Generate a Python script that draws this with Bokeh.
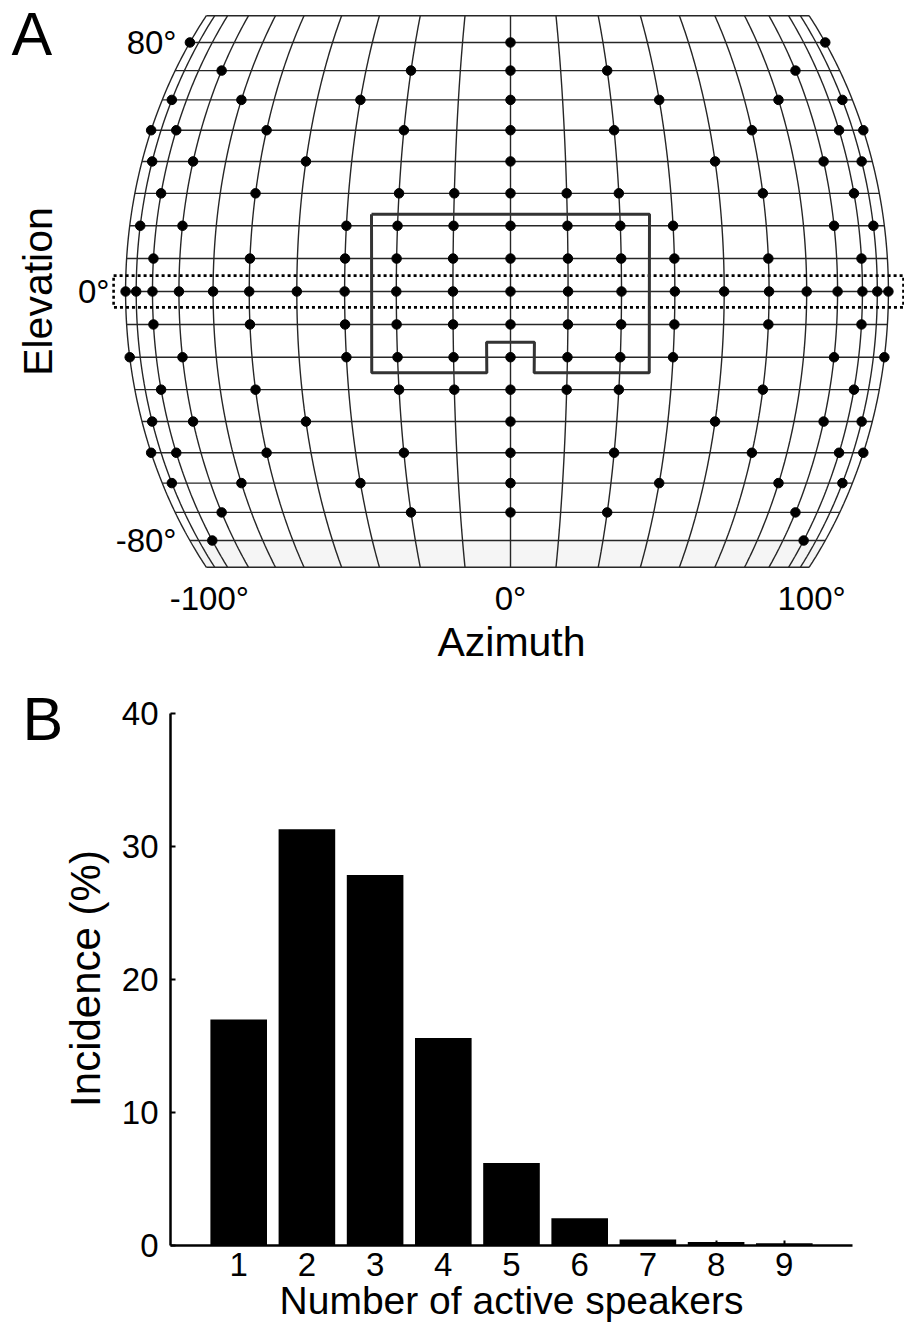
import numpy as np
from bokeh.plotting import figure
from bokeh.layouts import column, row
from bokeh.models import Range1d, FixedTicker
from bokeh.core.properties import value
from bokeh.embed import file_html
from bokeh.resources import INLINE

FONT_NAME = "Liberation Sans"
FONT = value(FONT_NAME)
MID = 0.3465   # em offset between Bokeh's "middle" anchor and the alphabetic baseline

# ---------------- data: panel A (speaker array, degrees) ----------------
MERIDIANS_LEFT = [-17.5, -35, -51.5, -67.5, -84.5, -98.5, -113, -125.5, -134, -140]
MERIDIANS_RIGHT = [17.5, 34, 51, 67.5, 83.5, 98, 111, 122.5, 130, 136]
MERIDIANS = sorted(MERIDIANS_LEFT + [0] + MERIDIANS_RIGHT)
PARALLELS = [-80, -70, -60, -50, -40, -30, -20, -10, 0, 10, 20, 30, 40, 50, 60, 70, 80]
EDGE_EL = [-90, 90]

ROW_ELEVATIONS = [80, 70, 60, 50, 40, 30, 20, 10, 0, -10, -20, -30, -40, -50, -60, -70, -80]
ROW_P80 = [-140, 0, 136]
ROW_P70 = [-113, -35, 0, 34, 111]
ROW_P60 = [-134, -98.5, -51.5, 0, 51, 98, 130]
ROW_P50 = [-140, -125.5, -84.5, -35, 0, 34, 83.5, 122.5, 136]
ROW_P40 = [-134, -113, -67.5, 0, 67.5, 111, 130]
ROW_P30 = [-125.5, -84.5, -35, -17.5, 0, 17.5, 34, 83.5, 122.5]
ROW_P20 = [-134, -113, -51.5, -35, -17.5, 0, 17.5, 34, 51, 111, 130]
ROW_P10 = [-125.5, -84.5, -51.5, -35, -17.5, 0, 17.5, 34, 51, 83.5, 122.5]
ROW_0 = [-140, -134, -125.5, -113, -98.5, -84.5, -67.5, -51.5, -35, -17.5, 0,
         17.5, 34, 51, 67.5, 83.5, 98, 111, 122.5, 130, 136]
ROW_M10 = [-125.5, -84.5, -51.5, -35, -17.5, 0, 17.5, 34, 51, 83.5, 122.5]
ROW_M20 = [-140, -113, -51.5, -35, -17.5, 0, 17.5, 34, 51, 111, 136]
ROW_M30 = [-125.5, -84.5, -35, -17.5, 0, 17.5, 34, 83.5, 122.5]
ROW_M40 = [-134, -113, -67.5, 0, 67.5, 111, 130]
ROW_M50 = [-140, -125.5, -84.5, -35, 0, 34, 83.5, 122.5, 136]
ROW_M60 = [-134, -98.5, -51.5, 0, 51, 98, 130]
ROW_M70 = [-113, -35, 0, 34, 111]
ROW_M80 = [-125.5, 122.5]
ROWS = [ROW_P80, ROW_P70, ROW_P60, ROW_P50, ROW_P40, ROW_P30, ROW_P20, ROW_P10, ROW_0,
        ROW_M10, ROW_M20, ROW_M30, ROW_M40, ROW_M50, ROW_M60, ROW_M70, ROW_M80]

BOX_AZ = [-43.5, 43.5, 43.5, 7.3, 7.3, -7.3, -7.3, -43.5, -43.5]
BOX_EL = [23.5, 23.5, -24.8, -24.8, -15.4, -15.4, -24.8, -24.8, 23.5]
BAND_AZ = [-147.5, 145, 145, -147.5, -147.5]
BAND_EL = [4.8, 4.8, -4.8, -4.8, 4.8]

ELEV_TICKS = [80, 0, -80]
ELEV_TICK_LABELS = ["80°", "0°", "-80°"]
ELEV_LABEL_AZ = -150
AZ_TICKS = [-100, 0, 100]
AZ_TICK_LABELS = ["-100°", "0°", "100°"]

# ---------------- data: panel B ----------------
N_SPEAKERS = [1, 2, 3, 4, 5, 6, 7, 8, 9]
INCIDENCE = [17.0, 31.3, 27.85, 15.6, 6.2, 2.05, 0.45, 0.27, 0.17]
Y_TICKS = [0, 10, 20, 30, 40]

# ---------------- projection ----------------
K = 0.42


def proj(az, el):
    a = np.radians(np.asarray(az, float) * K)
    e = np.radians(np.asarray(el, float) * K)
    return np.cos(e) * np.sin(a), np.sin(e)


def no_align(p):
    try:
        p.frame_align = False
    except Exception:
        pass


def bare(p):
    no_align(p)
    p.xgrid.visible = False
    p.ygrid.visible = False
    p.outline_line_color = None


W = 904
H1 = 680
H2 = 1332 - H1
S = 450.0              # px per projected unit
CX, CY = 510.0, 291.0  # projection centre (px)


def mx(px):
    return (px - CX) / S


def my(py):
    return (CY - py) / S


def base(py, size):   # alphabetic baseline (px) -> middle anchor (px)
    return py - MID * size


p1 = figure(width=W, height=H1, x_range=Range1d(mx(0), mx(W)), y_range=Range1d(my(H1), my(0)),
            output_backend="svg", toolbar_location=None, min_border=0,
            x_axis_location=None, y_axis_location=None, title=None)
bare(p1)

azL, azR = MERIDIANS_LEFT[-1], MERIDIANS_RIGHT[-1]

# light floor strip between -80 and -90
ee = np.linspace(-80, -90, 11)
lx, ly = proj(np.full_like(ee, azL), ee)
rx, ry = proj(np.full_like(ee, azR), ee[::-1])
p1.patch(list(lx) + list(rx), list(ly) + list(ry), fill_color="#f5f5f5", line_color=None)

# meridians
el_line = np.linspace(-90, 90, 181)
mxs, mys = [], []
for az in MERIDIANS:
    x, y = proj(np.full_like(el_line, az), el_line)
    mxs.append(list(x))
    mys.append(list(y))
p1.multi_line(mxs, mys, line_color="#262626", line_width=1.4)

# parallels and top / bottom edges
pxs, pys = [], []
for el in PARALLELS + EDGE_EL:
    x, y = proj([azL, azR], [el, el])
    pxs.append(list(x))
    pys.append(list(y))
p1.multi_line(pxs, pys, line_color="#262626", line_width=1.4)

# dotted horizontal band
bx, by = proj(BAND_AZ, BAND_EL)
p1.line(bx, by, line_color="black", line_width=2.6, line_dash="3 3")

# solid region box
sx, sy = proj(BOX_AZ, BOX_EL)
p1.line(sx, sy, line_color="#333333", line_width=3)

# speakers
spk_az, spk_el = [], []
for el, r in zip(ROW_ELEVATIONS, ROWS):
    spk_az += r
    spk_el += [el] * len(r)
dx, dy = proj(spk_az, spk_el)
p1.scatter(dx, dy, size=9.5, color="black")

# elevation tick labels
tx, ty = proj([ELEV_LABEL_AZ] * len(ELEV_TICKS), ELEV_TICKS)
p1.text(tx, ty, text=ELEV_TICK_LABELS, text_align="right", text_baseline="middle",
        text_font=FONT, text_font_size="33px", text_color="black")

# azimuth tick labels
ax_, _ = proj(AZ_TICKS, [0] * len(AZ_TICKS))
p1.text(ax_, [my(base(609, 33))] * len(AZ_TICKS), text=AZ_TICK_LABELS, text_align="center",
        text_baseline="middle", text_font=FONT, text_font_size="33px", text_color="black")

p1.text([mx(511)], [my(base(656, 41))], text=["Azimuth"], text_align="center",
        text_baseline="middle", text_font=FONT, text_font_size="41px", text_color="black")
p1.text([mx(base(52, 41))], [my(291)], text=["Elevation"], angle=np.pi / 2, text_align="center",
        text_baseline="middle", text_font=FONT, text_font_size="41px", text_color="black")
p1.text([mx(11)], [my(base(55, 61))], text=["A"], text_align="left", text_baseline="middle",
        text_font=FONT, text_font_size="61px", text_color="black")

# ---------------- panel B ----------------
WB = 112
pB = figure(width=WB, height=H2, x_range=Range1d(0, WB), y_range=Range1d(H2, 0),
            output_backend="svg", toolbar_location=None, min_border=0,
            x_axis_location=None, y_axis_location=None, title=None)
bare(pB)
pB.text([22], [base(740, 61) - H1], text=["B"], text_align="left", text_baseline="middle",
        text_font=FONT, text_font_size="61px", text_color="black")
pB.text([base(100, 42)], [978 - H1], text=["Incidence (%)"], angle=np.pi / 2, text_align="center",
        text_baseline="middle", text_font=FONT, text_font_size="42px", text_color="black")

p2 = figure(width=W - WB, height=H2, x_range=Range1d(0, 10), y_range=Range1d(0, 40),
            output_backend="svg", toolbar_location=None, title=None,
            min_border_left=170 - WB, min_border_right=52, min_border_top=33, min_border_bottom=87)
bare(p2)
p2.vbar(x=N_SPEAKERS, top=INCIDENCE, width=0.83, fill_color="black", line_color=None)

for ax in (p2.xaxis, p2.yaxis):
    ax.axis_line_width = 2.5
    ax.axis_line_color = "black"
    ax.major_tick_in = 5
    ax.major_tick_out = 0
    ax.major_tick_line_width = 2
    ax.major_tick_line_color = "black"
    ax.minor_tick_line_color = None
    ax.major_label_text_font = FONT_NAME
    ax.major_label_text_font_size = "33px"
    ax.major_label_text_color = "black"
    ax.axis_label_text_font = FONT_NAME
    ax.axis_label_text_font_style = "normal"
    ax.axis_label_text_color = "black"
p2.yaxis.major_label_standoff = 12
p2.xaxis.major_label_standoff = 7
p2.xaxis.ticker = FixedTicker(ticks=N_SPEAKERS)
p2.yaxis.ticker = FixedTicker(ticks=Y_TICKS)
p2.xaxis.axis_label = "Number of active speakers"
p2.xaxis.axis_label_text_font_size = "39px"
p2.xaxis.axis_label_standoff = 0

layout = column(p1, row(pB, p2, spacing=0), spacing=0)
open("out.html", "w").write(file_html(layout, INLINE))
